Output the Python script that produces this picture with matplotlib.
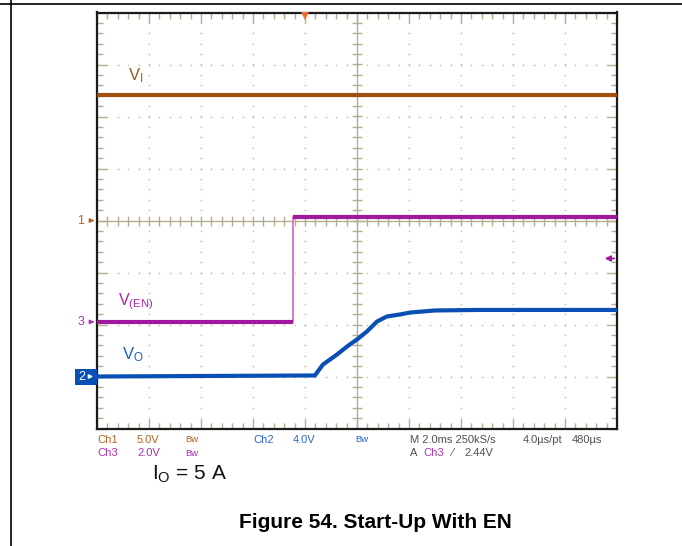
import numpy as np
import matplotlib
matplotlib.use("Agg")
import matplotlib.pyplot as plt
from matplotlib.patches import Rectangle, FancyArrowPatch
from matplotlib.lines import Line2D

plt.rcParams['font.family'] = ['Liberation Sans', 'DejaVu Sans']
plt.rcParams['mathtext.default'] = 'regular'

W, H = 682, 546

# ---------------- data (time in ms, voltage in V) ----------------
t_vi = [0.0, 20.0]
v_vi = [12.1, 12.1]

t_en = [0.0, 7.54, 7.54, 20.0]
v_en = [0.0, 0.0, 4.04, 4.04]

t_vo = [0.0, 8.38, 8.69, 9.23, 9.62, 10.0, 10.38, 10.77, 11.15, 11.65, 12.04, 13.0, 14.7, 20.0]
v_vo = [0.0, 0.08, 0.92, 1.69, 2.31, 2.85, 3.46, 4.23, 4.62, 4.77, 4.92, 5.08, 5.12, 5.12]

# channel settings: (volts/div, offset in div)
ch1 = (5.0, 0.0)
ch2 = (4.0, -3.0)
ch3 = (2.0, -1.95)
trig_time = 8.0        # ms
trig_level = 2.44      # V on ch3

row1 = [("Ch1", 97, "#B0651E"), ("5.0V", 137, "#B0651E"), ("Bw", 185, "#B0651E"),
        ("Ch2", 253, "#2A66CC"), ("4.0V", 293, "#2A66CC"), ("Bw", 355, "#2A66CC"),
        ("M 2.0ms 250kS/s", 410, "#505050"), ("4.0\u00b5s/pt", 523, "#505050"),
        ("480\u00b5s", 572, "#505050")]
row2 = [("Ch3", 97, "#B030B0"), ("2.0V", 137, "#B030B0"), ("Bw", 185, "#B030B0"),
        ("A", 410, "#505050"), ("Ch3", 423, "#B030B0"), ("\u2044", 451, "#505050"),
        ("2.44V", 464, "#505050")]

C_VI = "#A0500C"
C_EN = "#A0189E"
C_EN_LIGHT = "#D070D0"
C_VO = "#0A50B4"
TAN = "#B4AD8E"


def to_div(v, ch):
    return np.asarray(v, dtype=float) / ch[0] + ch[1]


def fx(x):
    return x / W


def fy(y):
    return 1 - y / H


fig = plt.figure(figsize=(W / 100, H / 100), dpi=100)
fig.patch.set_facecolor("white")

# page frame lines
fig.add_artist(Line2D([0, 1], [fy(4), fy(4)], color="black", lw=1.2))
fig.add_artist(Line2D([fx(11), fx(11)], [0, 1], color="black", lw=1.2))

ax = fig.add_axes([fx(97), fy(428.5), 520 / W, 416 / H])
ax.set_xlim(0, 20)
ax.set_ylim(-4, 4)
for s in ax.spines.values():
    s.set_color("#1A1A1A")
    s.set_linewidth(1.6)

# border ticks
ax.set_xticks(np.arange(0, 20.01, 2))
ax.set_xticks(np.arange(0, 20.01, 0.4), minor=True)
ax.set_yticks(np.arange(-4, 4.01, 1))
ax.set_yticks(np.arange(-4, 4.01, 0.2), minor=True)
ax.tick_params(which="both", direction="in", top=True, right=True,
               labelbottom=False, labelleft=False, color=TAN, width=1.0)
ax.tick_params(which="major", length=7)
ax.tick_params(which="minor", length=4)

# dotted grid
for xv in np.arange(2, 19, 2):
    if abs(xv - 10) < 1e-6:
        continue
    ys = np.arange(-4, 4.01, 0.2)
    ax.plot(np.full_like(ys, xv), ys, ls="none", marker="s", ms=1.1, color="#C4BFA8", mew=0)
for yv in range(-3, 4):
    if yv == 0:
        continue
    xs = np.arange(0, 20.01, 0.4)
    ax.plot(xs, np.full_like(xs, yv), ls="none", marker="s", ms=1.1, color="#C4BFA8", mew=0)

# center cross with ticks
ax.axvline(10, color=TAN, lw=1.0)
ax.axhline(0, color=TAN, lw=1.0)
xs = np.arange(0, 20.01, 0.4)
ax.plot(xs, np.zeros_like(xs), ls="none", marker="|", ms=7, mew=1.0, color=TAN)
ys = np.arange(-4, 4.01, 0.2)
ax.plot(np.full_like(ys, 10), ys, ls="none", marker="_", ms=7, mew=1.0, color=TAN)

# traces
ax.plot(t_vi, to_div(v_vi, ch1), color=C_VI, lw=3.0, solid_capstyle="butt", zorder=5)

en_div = to_div(v_en, ch3)
ax.plot(t_en, en_div, color=C_EN_LIGHT, lw=1.3, zorder=5)
ax.plot(t_en[:2], en_div[:2], color=C_EN, lw=3.0, solid_capstyle="butt", zorder=6)
ax.plot(t_en[2:], en_div[2:], color=C_EN, lw=3.0, solid_capstyle="butt", zorder=6)

ax.plot(t_vo, to_div(v_vo, ch2), color=C_VO, lw=3.0, solid_capstyle="butt", zorder=6)

# trace labels
ax.text(1.2, to_div(12.1, ch1) + 0.18, r"V$_\mathregular{I}$", color="#A0581E",
        fontsize=12, ha="left", va="bottom")
ax.text(0.8, to_div(0, ch3) + 0.2, r"V$_\mathregular{(EN)}$", color="#B020B0",
        fontsize=11.5, ha="left", va="bottom")
ax.text(0.95, to_div(0, ch2) + 0.25, r"V$_\mathregular{O}$", color="#2060C0",
        fontsize=12, ha="left", va="bottom")

# trigger marker at top
ax.plot(trig_time, 3.93, marker="v", ms=6, color="#F06A2A", mew=0, clip_on=False, zorder=10)

# trigger level arrow on right
lev = to_div(trig_level, ch3)
ax.annotate("", xy=(20 - 0.58, lev), xytext=(20, lev),
            arrowprops=dict(arrowstyle="-|>", color=C_EN, lw=1.3, mutation_scale=8),
            annotation_clip=False, zorder=10)

# left channel markers
for lab, ch, col in [("1", ch1, "#B0651E"), ("3", ch3, "#B030B0")]:
    ax.annotate(lab, xy=(0, ch[1]), xytext=(-9, 0), textcoords="offset points",
                color=col, fontsize=9, ha="right", va="center", annotation_clip=False)
    ax.annotate("", xy=(0, ch[1]), xytext=(-5.5, 0), textcoords="offset points",
                arrowprops=dict(arrowstyle="-|>", color=col, lw=1.0, mutation_scale=6),
                annotation_clip=False)
# ch2 marker (blue box)
y2 = 220.5 - ch2[1] * 52
fig.add_artist(Rectangle((fx(75), fy(y2 + 8)), 22 / W, 16 / H, color=C_VO, lw=0))
fig.text(fx(85), fy(y2), "2", color="white", fontsize=9, ha="right", va="center")
fig.add_artist(FancyArrowPatch(
    (fx(87), fy(y2)), (fx(96), fy(y2)), transform=fig.transFigure,
    arrowstyle="-|>", color="white", lw=1.0, mutation_scale=6))

# bottom status text
for txt, x, col in row1:
    fs = 6.8 if txt == "Bw" else 8
    fig.text(fx(x), fy(440), txt, color=col, fontsize=fs, ha="left", va="center")
for txt, x, col in row2:
    fs = 6.8 if txt == "Bw" else 8
    fig.text(fx(x), fy(453), txt, color=col, fontsize=fs, ha="left", va="center")

fig.text(fx(152), fy(474), r"I$_\mathregular{O}$ = 5 A", fontsize=15, ha="left",
         va="center", color="#111111")
fig.text(fx(375), fy(522), "Figure 54. Start-Up With EN", fontsize=15, fontweight="bold",
         ha="center", va="center", color="black")

fig.savefig("out.png", dpi=100)
